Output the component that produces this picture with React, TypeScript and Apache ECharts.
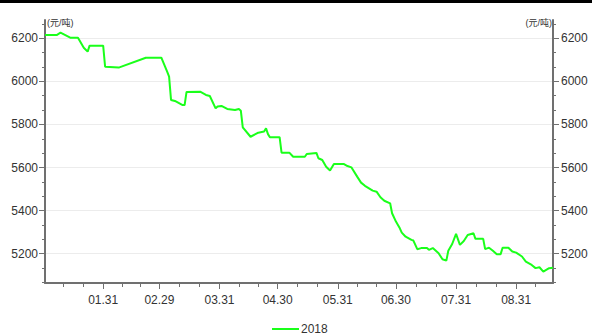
import React, { useEffect, useRef } from 'react';
import * as echarts from 'echarts';

const seriesName = '2018';
const unitName = '(元/吨)';
const dates = ['01.01','01.07','01.09','01.14','01.18','01.21','01.23','01.24','01.31','02.01','02.08','02.22','03.01','03.04','03.05','03.06','03.08','03.12','03.13','03.14','03.21','03.24','03.26','03.29','03.30','04.01','04.04','04.08','04.10','04.11','04.12','04.16','04.20','04.23','04.24','04.25','04.26','05.01','05.02','05.06','05.08','05.14','05.15','05.20','05.21','05.23','05.25','05.27','05.29','06.03','06.05','06.07','06.10','06.12','06.14','06.18','06.20','06.22','06.24','06.27','06.28','06.30','07.02','07.03','07.05','07.08','07.09','07.11','07.13','07.16','07.17','07.19','07.22','07.24','07.26','07.27','07.29','07.31','08.02','08.04','08.06','08.09','08.10','08.14','08.15','08.17','08.19','08.21','08.23','08.24','08.27','08.29','08.31','09.03','09.05','09.08','09.10','09.12','09.14','09.17','09.19'];
const prices = [6215,6215,6226,6203,6203,6156,6138,6166,6166,6068,6064,6110,6110,6045,6022,5914,5909,5890,5890,5951,5952,5937,5932,5875,5883,5886,5872,5867,5872,5864,5787,5743,5762,5767,5782,5755,5741,5741,5669,5669,5650,5650,5663,5668,5643,5635,5604,5586,5617,5617,5607,5601,5558,5530,5515,5493,5488,5462,5446,5434,5388,5349,5318,5298,5279,5264,5261,5221,5226,5226,5218,5226,5202,5174,5168,5214,5245,5292,5241,5259,5287,5295,5269,5269,5221,5228,5214,5198,5198,5228,5228,5210,5205,5187,5163,5148,5133,5137,5117,5133,5135];
const xTickLabels = ['01.31','02.29','03.31','04.30','05.31','06.30','07.31','08.31'];
const yTickValues = [5200, 5400, 5600, 5800, 6000, 6200];
const monthLengths = [31, 29, 31, 30, 31, 30, 31, 31, 30, 31, 30, 31];

const X_MIN = 0;
const X_MAX = 262;
const Y_MIN = 5064;
const Y_MAX = 6285;

function dayIndex(md: string): number {
  const [m, d] = md.split('.').map(Number);
  let s = 0;
  for (let i = 0; i < m - 1; i++) s += monthLengths[i];
  return s + d - 1;
}

const xMajor = xTickLabels.map(dayIndex);
const xBounds = [-1, ...xMajor, dayIndex('09.30')];
const xMinor: number[] = [];
for (let i = 0; i < xBounds.length - 1; i++) {
  const a = xBounds[i], b = xBounds[i + 1];
  [1, 2].forEach((k) => {
    const v = a + ((b - a) * k) / 3;
    if (v > X_MIN && v < X_MAX) xMinor.push(v);
  });
}
const yStep = yTickValues[1] - yTickValues[0];
const yMinor: number[] = [];
for (let v = yTickValues[0] - yStep; v <= yTickValues[yTickValues.length - 1]; v += yStep) {
  [1, 2].forEach((k) => {
    const t = v + (yStep * k) / 3;
    if (t > Y_MIN && t < Y_MAX) yMinor.push(t);
  });
}

const FONT = "'Liberation Sans', 'Noto Sans CJK SC', sans-serif";
const AXIS_COLOR = '#707070';
const TEXT_COLOR = '#333';
const LINE_COLOR = '#1aff1a';

export default function App() {
  const ref = useRef<HTMLDivElement>(null);
  useEffect(() => {
    if (!ref.current) return;
    const chart = echarts.init(ref.current, null, { renderer: 'svg' });
    const grid = { left: 45, right: 39, top: 20, bottom: 52 };
    const majorY = (pos: 'left' | 'right') => ({
      type: 'value',
      gridIndex: 0,
      position: pos,
      min: Y_MIN,
      max: Y_MAX,
      name: unitName,
      nameLocation: 'end',
      nameGap: 2,
      nameTextStyle: {
        fontSize: 9,
        color: TEXT_COLOR,
        fontFamily: FONT,
        align: pos === 'left' ? 'left' : 'right',
        verticalAlign: 'top',
        padding: pos === 'left' ? [0, 0, 0, 2] : [0, 1, 0, 0],
      },
      axisLine: { show: true, onZero: false, lineStyle: { color: AXIS_COLOR, width: 2 } },
      axisTick: { show: true, length: 6, customValues: yTickValues, lineStyle: { color: AXIS_COLOR, width: 1 } },
      axisLabel: {
        show: true,
        customValues: yTickValues,
        formatter: (v: number) => String(Math.round(v)),
        margin: pos === 'left' ? 7 : 8,
        fontSize: 12,
        color: TEXT_COLOR,
        fontFamily: FONT,
      },
      splitLine: { show: pos === 'left', lineStyle: { color: '#ececec', width: 1 } },
    });
    const minorY = (pos: 'left' | 'right') => ({
      type: 'value',
      gridIndex: 1,
      position: pos,
      min: Y_MIN,
      max: Y_MAX,
      axisLine: { show: false, onZero: false },
      axisTick: { show: true, length: 3, customValues: yMinor, lineStyle: { color: AXIS_COLOR, width: 1 } },
      axisLabel: { show: false },
      splitLine: { show: false },
    });
    chart.setOption({
      animation: false,
      backgroundColor: '#fff',
      textStyle: { fontFamily: FONT },
      grid: [grid, grid],
      graphic: [
        { type: 'rect', left: 0, top: 0, shape: { width: 592, height: 3 }, style: { fill: '#000' } },
      ],
      legend: {
        data: [{ name: seriesName, icon: 'rect' }],
        left: 272,
        top: 323,
        padding: 0,
        itemWidth: 27,
        itemHeight: 2,
        itemStyle: { color: LINE_COLOR },
        textStyle: { fontSize: 12, color: TEXT_COLOR, fontFamily: FONT, padding: [0, 0, 0, -3] },
      },
      xAxis: [
        {
          type: 'value',
          gridIndex: 0,
          position: 'bottom',
          min: X_MIN,
          max: X_MAX,
          axisLine: { show: true, onZero: false, lineStyle: { color: AXIS_COLOR, width: 2 } },
          axisTick: { show: true, length: 6, customValues: xMajor, lineStyle: { color: AXIS_COLOR, width: 1 } },
          axisLabel: {
            show: true,
            customValues: xMajor,
            formatter: (v: number) => {
              const i = xMajor.indexOf(v);
              return i >= 0 ? xTickLabels[i] : '';
            },
            margin: 11,
            fontSize: 12,
            color: TEXT_COLOR,
            fontFamily: FONT,
          },
          splitLine: { show: false },
        },
        {
          type: 'value',
          gridIndex: 1,
          position: 'bottom',
          min: X_MIN,
          max: X_MAX,
          axisLine: { show: false, onZero: false },
          axisTick: { show: true, length: 4, customValues: xMinor, lineStyle: { color: AXIS_COLOR, width: 1 } },
          axisLabel: { show: false },
          splitLine: { show: false },
        },
      ],
      yAxis: [majorY('left'), majorY('right'), minorY('left'), minorY('right')],
      series: [
        {
          name: seriesName,
          type: 'line',
          xAxisIndex: 0,
          yAxisIndex: 0,
          symbol: 'none',
          showSymbol: false,
          lineStyle: { color: LINE_COLOR, width: 2 },
          itemStyle: { color: LINE_COLOR },
          data: dates.map((d, i) => [dayIndex(d), prices[i]]),
        },
      ],
    });
    return () => chart.dispose();
  }, []);
  return (
    <div
      ref={ref}
      style={{ position: 'fixed', left: 0, top: 0, width: 592, height: 335 }}
    />
  );
}
